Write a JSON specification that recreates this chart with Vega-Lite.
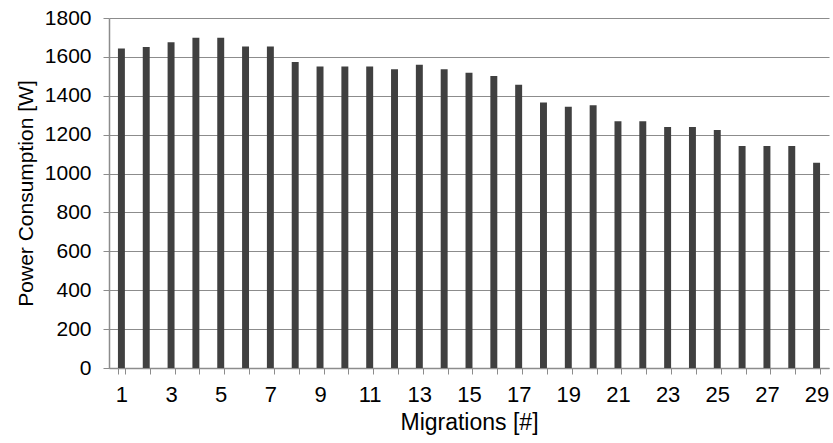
{
  "$schema": "https://vega.github.io/schema/vega-lite/v6.json",
  "width": 720,
  "height": 350,
  "autosize": {"type": "none"},
  "padding": {"left": 109, "top": 18, "right": 4, "bottom": 75},
  "background": "white",
  "config": {
    "view": {"stroke": null},
    "font": "Liberation Sans"
  },
  "data": {
    "values": [
      {"m": 1, "p": 1643}, {"m": 2, "p": 1651}, {"m": 3, "p": 1675}, {"m": 4, "p": 1698},
      {"m": 5, "p": 1698}, {"m": 6, "p": 1653}, {"m": 7, "p": 1653}, {"m": 8, "p": 1574},
      {"m": 9, "p": 1550}, {"m": 10, "p": 1550}, {"m": 11, "p": 1550}, {"m": 12, "p": 1536},
      {"m": 13, "p": 1559}, {"m": 14, "p": 1536}, {"m": 15, "p": 1518}, {"m": 16, "p": 1502},
      {"m": 17, "p": 1457}, {"m": 18, "p": 1365}, {"m": 19, "p": 1343}, {"m": 20, "p": 1351},
      {"m": 21, "p": 1269}, {"m": 22, "p": 1269}, {"m": 23, "p": 1240}, {"m": 24, "p": 1240},
      {"m": 25, "p": 1224}, {"m": 26, "p": 1142}, {"m": 27, "p": 1142}, {"m": 28, "p": 1142},
      {"m": 29, "p": 1056}
    ]
  },
  "mark": {"type": "bar", "color": "#404040"},
  "encoding": {
    "x": {
      "field": "m",
      "type": "ordinal",
      "scale": {"paddingInner": 0.72, "paddingOuter": 0.36},
      "axis": {
        "title": "Migrations [#]",
        "titleFont": "Liberation Sans",
        "titleFontSize": 23,
        "titleFontWeight": "normal",
        "titleColor": "#000000",
        "titlePadding": 6,
        "labelAngle": 0,
        "labelFontSize": 22,
        "labelColor": "#000000",
        "labelPadding": 10,
        "labelExpr": "datum.value % 2 == 1 ? datum.label : ''",
        "tickBand": "extent",
        "tickSize": 6,
        "tickColor": "#8c8c8c",
        "domainColor": "#8c8c8c",
        "domainWidth": 1.5,
        "grid": false
      }
    },
    "y": {
      "field": "p",
      "type": "quantitative",
      "scale": {"domain": [0, 1800], "nice": false},
      "axis": {
        "title": "Power Consumption [W]",
        "titleFont": "Liberation Sans",
        "titleFontSize": 21,
        "titleFontWeight": "normal",
        "titleColor": "#000000",
        "titlePadding": 8,
        "values": [0, 200, 400, 600, 800, 1000, 1200, 1400, 1600, 1800],
        "format": "d",
        "labelFontSize": 21,
        "labelColor": "#000000",
        "labelPadding": 12,
        "tickSize": 6,
        "tickColor": "#8c8c8c",
        "domainColor": "#8c8c8c",
        "domainWidth": 1.5,
        "gridColor": "#8c8c8c",
        "gridOpacity": 1
      }
    }
  }
}
